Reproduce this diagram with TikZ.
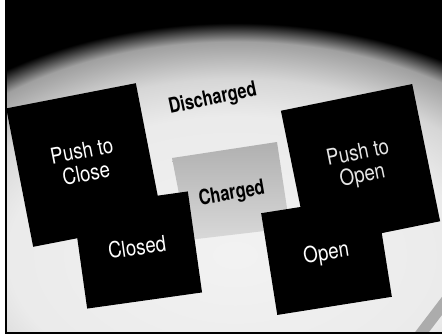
\documentclass[tikz,border=0pt]{standalone}
\usepackage{graphicx}
\usepackage{fontspec}
\setsansfont{TeX Gyre Heros}
\newcommand{\narrow}[2][0.85]{\scalebox{#1}[1]{\begin{tabular}{@{}c@{}}#2\end{tabular}}}
\pgfdeclareradialshading{panelglow}{\pgfpoint{0bp}{0bp}}{color(0bp)=(gray!10); color(15bp)=(gray!16); color(19bp)=(gray!32); color(23bp)=(gray!75); color(25bp)=(black); color(50bp)=(black)}

\begin{document}
\begin{tikzpicture}[
    x=1pt, y=-1pt,
    button/.style={fill=black, text=white, inner sep=0pt, align=center, font=\sffamily\fontsize{22}{22}\selectfont},
    legend/.style={text=black, inner sep=0pt, font=\sffamily\bfseries\fontsize{21}{21}\selectfont}
]
    \useasboundingbox (0,0) rectangle (442,335);
    \fill[white] (0,0) rectangle (442,335);

    % Panel with lit area
    \begin{scope}
        \clip (6,0) rectangle (442,333);
        \fill[black] (6,0) rectangle (442,333);
        \shade[shading=panelglow] (235,255) ellipse [x radius=380pt, y radius=232pt];
        \shade[top color=gray!62, bottom color=gray!30] (172,158) -- (277,142) -- (290,228) -- (188,240) -- cycle;
        \draw[gray!65, line width=11pt] (416,340) -- (448,298);
    \end{scope}
    \draw[black, line width=1.5pt] (6,0) -- (6,333) -- (442,333);

    % Buttons
    \node[button, rotate=11, minimum width=132pt, minimum height=141pt] (pushclose) at (84.5,165) {\narrow{Push to\\Close}};
    \node[button, rotate=8, minimum width=116pt, minimum height=102pt] (closed) at (137.5,250) {\narrow{Closed}};
    \node[button, rotate=11.5, minimum width=134pt, minimum height=140pt, text=gray!20] (pushopen) at (360.5,166) {\narrow{Push to\\Open}};
    \node[button, rotate=9, minimum width=116pt, minimum height=103pt] (open) at (326.5,255) {\narrow{Open}};

    % State labels
    \node[legend, rotate=12] (discharged) at (213,100) {\narrow[0.78]{Discharged}};
    \node[legend, rotate=10] (charged) at (232,195) {\narrow[0.78]{Charged}};

\end{tikzpicture}
\end{document}
